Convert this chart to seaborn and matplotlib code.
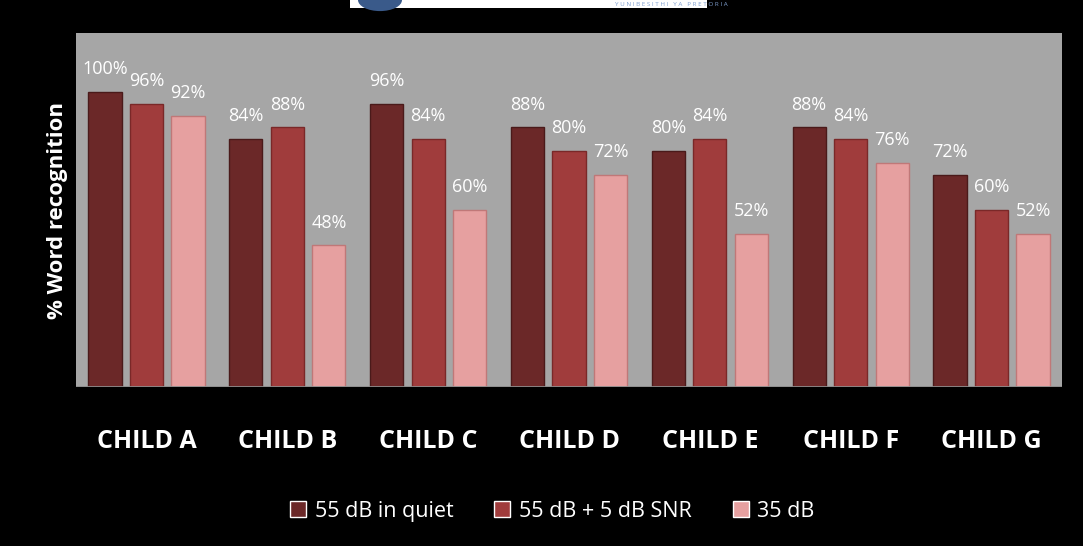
import numpy as np
import pandas as pd
import matplotlib.pyplot as plt
import seaborn as sns
from matplotlib.patches import Rectangle, Circle

# Data
children = ["CHILD A", "CHILD B", "CHILD C", "CHILD D", "CHILD E", "CHILD F", "CHILD G"]
conditions = ["55 dB in quiet", "55 dB + 5 dB SNR", "35 dB"]
quiet = [100, 84, 96, 88, 80, 88, 72]
snr = [96, 88, 84, 80, 84, 84, 60]
soft = [92, 48, 60, 72, 52, 76, 52]

colors = ["#6b2828", "#a03c3c", "#e6a0a0"]
edges = ["#4a1a1a", "#7a2828", "#c07878"]

df = pd.DataFrame({
    "child": children * 3,
    "condition": np.repeat(conditions, len(children)),
    "value": quiet + snr + soft,
})

sns.set_style("white")
plt.rcParams["font.family"] = ["Open Sans", "DejaVu Sans"]

fig = plt.figure(figsize=(10.83, 5.46), dpi=100, facecolor="black")
ax = fig.add_axes([0.0702, 0.291, 0.9104, 0.6486])
ax.set_facecolor("#a6a6a6")

sns.barplot(data=df, x="child", y="value", hue="condition", order=children,
            hue_order=conditions, palette=colors, width=0.885, gap=0.2,
            saturation=1, ax=ax, legend=True)

for cont, ec in zip(ax.containers, edges):
    for bar in cont:
        bar.set_edgecolor(ec)
        bar.set_linewidth(1.0)
    ax.bar_label(cont, labels=[f"{int(v)}%" for v in cont.datavalues],
                 padding=10, color="white", fontsize=13)

ax.set_ylim(0, 120)
ax.set_xlim(-0.5, len(children) - 0.5)
ax.set_yticks([])
ax.set_xlabel("")
ax.set_ylabel("% Word recognition", color="white", fontsize=16,
              fontweight="bold", labelpad=6)
ax.tick_params(axis="x", length=0, pad=30, colors="white")
for lbl in ax.get_xticklabels():
    lbl.set_fontsize(18)
    lbl.set_fontweight("bold")
for s in ax.spines.values():
    s.set_visible(False)
ax.axhline(0, color="#8c8c8c", lw=2)

handles, labels = ax.get_legend_handles_labels()
ax.get_legend().remove()
leg = fig.legend(handles, labels, loc="center", bbox_to_anchor=(0.51, 0.064),
                 ncol=3, frameon=False, fontsize=15.5, handlelength=0.75,
                 handleheight=0.75, handletextpad=0.4, columnspacing=1.9,
                 labelcolor="white")

# partial logo strip at the top
fig.patches.append(Rectangle((350 / 1083, 1 - 8 / 546), 357 / 1083, 8 / 546,
                             transform=fig.transFigure, facecolor="white",
                             edgecolor="none", zorder=0))
fig.patches.append(Circle((380 / 1083, 1 - 0 / 546), 22 / 1083,
                          transform=fig.transFigure, facecolor="#3a5a8a",
                          edgecolor="none", zorder=1, clip_on=True))
fig.text(0.62, 1 - 7 / 546, "Y U N I B E S I T H I   Y A   P R E T O R I A",
         color="#7f9fd0", fontsize=4.5, ha="center", va="bottom")

fig.savefig("out.png", dpi=100, facecolor="black")
